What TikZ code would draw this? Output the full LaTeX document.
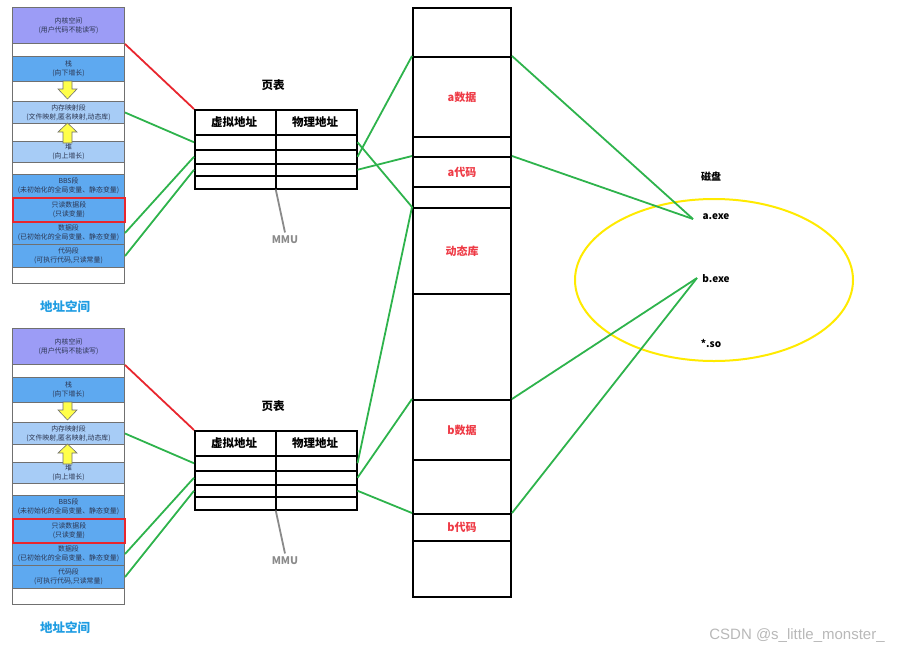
\documentclass[tikz,border=0pt]{standalone}
\usepackage{fontspec}
\setmainfont{Noto Sans CJK SC}
\newfontfamily\wmfont{Liberation Sans}
\usetikzlibrary{positioning,shapes.geometric,calc}
\definecolor{kern}{HTML}{9C9CF6}
\definecolor{segd}{HTML}{5EA9F0}
\definecolor{segl}{HTML}{A7CCF6}
\definecolor{segtxt}{HTML}{2B3550}
\definecolor{edge}{HTML}{707070}
\definecolor{link}{HTML}{2EB34C}
\definecolor{warn}{HTML}{E8262E}
\definecolor{memtxt}{HTML}{EE3B46}
\definecolor{title}{HTML}{1E9CE2}
\definecolor{glow}{HTML}{FFEA00}
\definecolor{arrowy}{HTML}{FFFF4A}
\definecolor{mmu}{HTML}{8A8A8A}
\newcommand{\sgf}{\fontsize{6.9}{8.8}\selectfont}
\tikzset{
  segbox/.style ={draw=edge, line width=1pt, minimum width=112pt, inner sep=0pt, align=center, font=\sgf, text=segtxt, anchor=north west},
  ht/.style     ={minimum height=#1pt},
  cell/.style   ={draw=black, line width=1.5pt, minimum width=162pt, inner sep=0pt, anchor=north west},
  memcell/.style={draw=black, line width=2pt, minimum width=98pt, inner sep=0pt, anchor=north west, font=\bfseries\fontsize{11}{13}\selectfont, text=memtxt},
  hdtxt/.style  ={font=\bfseries\fontsize{11.5}{13}\selectfont},
  ttl/.style    ={font=\bfseries\fontsize{12.5}{14}\selectfont, text=title},
  disktxt/.style={font=\bfseries\fontsize{10}{12}\selectfont},
  link/.style   ={draw=link, line width=1.8pt},
  warnln/.style ={draw=warn, line width=1.8pt},
  mmuln/.style  ={draw=mmu, line width=1.8pt},
  yarrow/.style ={fill=arrowy, draw=edge, line width=.6pt},
}

\begin{document}
\begin{tikzpicture}[x=1pt,y=-1pt]
  \useasboundingbox (0,0) rectangle (901,651);

  % two processes: address space + page table
  \foreach \o/\p in {0/a,321/b}{
    \node[segbox,fill=kern,ht=36] (kern-\p) at (12,7+\o)   {内核空间\\(用户代码不能读写)};
    \node[segbox,fill=white,ht=13] (gap0-\p) at (12,43+\o) {};
    \node[segbox,fill=segd,ht=25] (stack-\p) at (12,56+\o) {栈\\(向下增长)};
    \node[segbox,fill=white,ht=20] (gap1-\p) at (12,81+\o) {};
    \node[segbox,fill=segl,ht=22] (mmap-\p) at (12,101+\o) {内存映射段\\(文件映射,匿名映射,动态库)};
    \node[segbox,fill=white,ht=18] (gap2-\p) at (12,123+\o) {};
    \node[segbox,fill=segl,ht=21] (heap-\p) at (12,141+\o) {堆\\(向上增长)};
    \node[segbox,fill=white,ht=12] (gap3-\p) at (12,162+\o) {};
    \node[segbox,fill=segd,ht=23] (bss-\p) at (12,174+\o)  {BBS段\\(未初始化的全局变量、静态变量)};
    \node[segbox,fill=segd,ht=23] (data-\p) at (12,221+\o) {数据段\\(已初始化的全局变量、静态变量)};
    \node[segbox,fill=segd,ht=23] (text-\p) at (12,244+\o) {代码段\\(可执行代码,只读常量)};
    \node[segbox,fill=white,ht=16] (gap4-\p) at (12,267+\o) {};
    \node[segbox,fill=segd,ht=24,draw=warn,line width=1.8pt] (ro-\p) at (12,197+\o) {只读数据段\\(只读变量)};
    \fill[yarrow] (63,81+\o) -- (72,81+\o) -- (72,89+\o) -- (77,89+\o) -- (67.5,99+\o) -- (58,89+\o) -- (63,89+\o) -- cycle;
    \fill[yarrow] (67.5,123+\o) -- (77,132+\o) -- (72,132+\o) -- (72,143+\o) -- (63,143+\o) -- (63,132+\o) -- (58,132+\o) -- cycle;
    \node[ttl] (as-\p) at (65,307+\o) {地址空间};

    \node[hdtxt] (pt-\p) at (273,85+\o) {页表};
    \node[cell,minimum height=25pt] (hd-\p) at (194,109+\o) {};
    \node[cell,minimum height=15pt] (r1-\p) at (194,134+\o) {};
    \node[cell,minimum height=14pt] (r2-\p) at (194,149+\o) {};
    \node[cell,minimum height=12pt] (r3-\p) at (194,163+\o) {};
    \node[cell,minimum height=13pt] (r4-\p) at (194,175+\o) {};
    \draw[line width=1.5pt] (hd-\p.north) -- (r4-\p.south);
    \node[hdtxt] at (234,122+\o) {虚拟地址};
    \node[hdtxt] at (315,122+\o) {物理地址};
    \node[font=\bfseries\fontsize{10.5}{12}\selectfont, text=mmu] (mmu-\p) at (285,240+\o) {MMU};
    \draw[mmuln] (r4-\p.south) -- (mmu-\p.north);

    \draw[warnln] (kern-\p.south east) -- (hd-\p.north west);
    \draw[link] (mmap-\p.east) -- (r1-\p.west);
    \draw[link] (data-\p.east) -- (r2-\p.west);
    \draw[link] (text-\p.east) -- (r3-\p.west);
  }

  % physical memory
  \node[memcell,minimum height=49pt] (phys-0) at (412,7) {};
  \node[memcell,minimum height=80pt] (phys-a-data) at (412,56) {a数据};
  \node[memcell,minimum height=20pt] (phys-1) at (412,136) {};
  \node[memcell,minimum height=30pt] (phys-a-code) at (412,156) {a代码};
  \node[memcell,minimum height=21pt] (phys-2) at (412,186) {};
  \node[memcell,minimum height=86pt] (phys-lib) at (412,207) {动态库};
  \node[memcell,minimum height=106pt] (phys-3) at (412,293) {};
  \node[memcell,minimum height=60pt] (phys-b-data) at (412,399) {b数据};
  \node[memcell,minimum height=54pt] (phys-4) at (412,459) {};
  \node[memcell,minimum height=27pt] (phys-b-code) at (412,513) {b代码};
  \node[memcell,minimum height=56pt] (phys-5) at (412,540) {};

  % disk
  \node[draw=glow, line width=2pt, ellipse, minimum width=278pt, minimum height=162pt] (disk) at (714,280) {};
  \node[disktxt] (disk-lbl) at (711,177) {磁盘};
  \node[disktxt] (aexe) at (716,217) {a.exe};
  \node[disktxt] (bexe) at (716,279) {b.exe};
  \node[disktxt] (so) at (711,343) {*.so};
  \coordinate (exe-a) at (693,219);
  \coordinate (exe-b) at (697,278);

  \foreach \p in {a,b}{
    \draw[link] (r1-\p.east) -- (phys-lib.north west);
    \draw[link] (r2-\p.east) -- (phys-\p-data.north west);
    \draw[link] (r3-\p.east) -- (phys-\p-code.north west);
    \draw[link] (phys-\p-data.north east) -- (exe-\p);
    \draw[link] (phys-\p-code.north east) -- (exe-\p);
  }

  \node[font=\wmfont\fontsize{15}{17}\selectfont, text=black!28] (wm) at (797,636) {CSDN @s\_little\_monster\_};
\end{tikzpicture}
\end{document}
